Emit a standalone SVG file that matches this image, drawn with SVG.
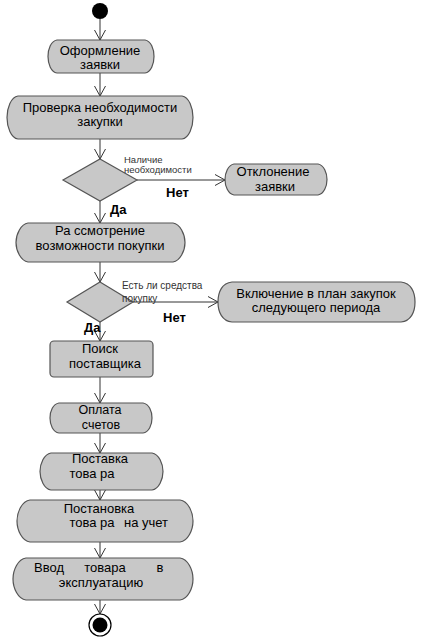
<svg xmlns="http://www.w3.org/2000/svg" width="421" height="641" viewBox="0 0 421 641">
<defs>
<marker id="ah" viewBox="0 0 10 12" refX="10" refY="6" markerWidth="10" markerHeight="12" markerUnits="userSpaceOnUse" orient="auto">
<path d="M0,0.5 L10,6 L0,11.5" fill="none" stroke="#333" stroke-width="1"/>
</marker>
</defs>
<style>
.n{fill:#c8c8c8;stroke:#555;stroke-width:1.2}
.t{font-family:"Liberation Sans",Arial,sans-serif;font-size:13px;fill:#000;text-anchor:middle}
.s{font-family:"Liberation Sans",Arial,sans-serif;font-size:9.5px;fill:#333}
.b{font-family:"Liberation Sans",Arial,sans-serif;font-size:13px;font-weight:bold;fill:#000}
.c line{stroke:#333;stroke-width:1;marker-end:url(#ah)}
</style>
<rect width="421" height="641" fill="#fff"/>
<g class="c" id="connectors">
<line x1="100" y1="19" x2="100" y2="40"/>
<line x1="100" y1="73" x2="100" y2="96"/>
<line x1="100" y1="139" x2="100" y2="159"/>
<line x1="137" y1="180" x2="225" y2="180"/>
<line x1="100" y1="201" x2="100" y2="223"/>
<line x1="100" y1="262" x2="100" y2="282"/>
<line x1="133" y1="302" x2="218" y2="302"/>
<line x1="100" y1="322" x2="100" y2="341"/>
<line x1="100" y1="377" x2="100" y2="403"/>
<line x1="100" y1="433" x2="100" y2="453"/>
<line x1="100" y1="490" x2="100" y2="500"/>
<line x1="100" y1="542" x2="100" y2="558"/>
<line x1="100" y1="600" x2="100" y2="614"/>
</g>
<g id="start"><circle cx="100" cy="11" r="8" fill="#000"/></g>
<g id="n1">
<path class="n" d="M57,40 H145 C151,41 154,49 154,56.5 C154,64 151,72 145,73 H57 C51,72 48,64 48,56.5 C48,49 51,41 57,40 Z"/>
<text class="t" x="100" y="55">Оформление</text>
<text class="t" x="100" y="69">заявки</text>
</g>
<g id="n2">
<path class="n" d="M18,96 H182 C189,97 193,108 193,117.5 C193,127 189,138 182,139 H18 C11,138 7,127 7,117.5 C7,108 11,97 18,96 Z"/>
<text class="t" x="100" y="112">Проверка необходимости</text>
<text class="t" x="100" y="126">закупки</text>
</g>
<g id="d1">
<polygon class="n" points="100,159 137,180 100,201 63,180"/>
<text class="s" x="124" y="163">Наличие</text>
<text class="s" x="124" y="173">необходимости</text>
<text class="b" x="166" y="197">Нет</text>
<text class="b" x="110" y="214">Да</text>
</g>
<g id="n_reject">
<path class="n" d="M234,164 H318 C324,165 327,173 327,179.5 C327,186 324,194 318,195 H234 C228,194 225,186 225,179.5 C225,173 228,165 234,164 Z"/>
<text class="t" x="273" y="176">Отклонение</text>
<text class="t" x="275" y="190.5">заявки</text>
</g>
<g id="n3">
<path class="n" d="M28,223 H173 C180,224 185,234 185,242.5 C185,251 180,261 173,262 H28 C21,261 16,251 16,242.5 C16,234 21,224 28,223 Z"/>
<text class="t" x="100" y="235">Ра ссмотрение</text>
<text class="t" x="100" y="250">возможности покупки</text>
</g>
<g id="d2">
<polygon class="n" points="100,282 133,302 100,322 67,302"/>
<text class="s" x="122" y="289" style="font-size:10px">Есть ли средства</text>
<text class="s" x="122" y="302" style="font-size:10px">покупку</text>
<text class="b" x="163" y="322">Нет</text>
<text class="b" x="84" y="332">Да</text>
</g>
<g id="n_plan">
<path class="n" d="M232,282 H401 C411,283 415,292 415,302 C415,312 411,321 401,322 H232 C222,321 218,312 218,302 C218,292 222,283 232,282 Z"/>
<text class="t" x="316" y="298">Включение в план закупок</text>
<text class="t" x="316" y="312">следующего периода</text>
</g>
<g id="n_search">
<rect class="n" x="50" y="341" width="103" height="36" rx="4"/>
<text class="t" x="100" y="353">Поиск</text>
<text class="t" x="105" y="368">поставщика</text>
</g>
<g id="n_pay">
<path class="n" d="M59,403 H143 C149,404 152,411 152,418 C152,425 149,432 143,433 H59 C53,432 50,425 50,418 C50,411 53,404 59,403 Z"/>
<text class="t" x="100" y="414" style="font-size:12.5px">Оплата</text>
<text class="t" x="101" y="428.5" style="font-size:12.5px">счетов</text>
</g>
<g id="n_delivery">
<path class="n" d="M51,453 H152 C159,454 163,464 163,471.5 C163,479 159,489 152,490 H51 C44,489 40,479 40,471.5 C40,464 44,454 51,453 Z"/>
<text class="t" x="100" y="463">Поставка</text>
<text class="t" x="92" y="478">това ра</text>
</g>
<g id="n_register">
<path class="n" d="M30,500 H180 C188,501 193,512 193,521 C193,530 188,541 180,542 H30 C22,541 17,530 17,521 C17,512 22,501 30,500 Z"/>
<text class="t" x="99" y="513">Постановка</text>
<text class="t" x="92" y="527">това ра</text>
<text class="t" x="146" y="527">на учет</text>
</g>
<g id="n_commission">
<path class="n" d="M26,558 H180 C188,559 193,570 193,579 C193,588 188,599 180,600 H26 C18,599 13,588 13,579 C13,570 18,559 26,558 Z"/>
<text class="t" x="49" y="572">Ввод</text>
<text class="t" x="105" y="572">товара</text>
<text class="t" x="160" y="572">в</text>
<text class="t" x="101" y="587">эксплуатацию</text>
</g>
<g id="end">
<circle cx="100" cy="625" r="11" fill="#fff" stroke="#000" stroke-width="1.2"/>
<circle cx="100" cy="625" r="7.5" fill="#000"/>
</g>
</svg>
